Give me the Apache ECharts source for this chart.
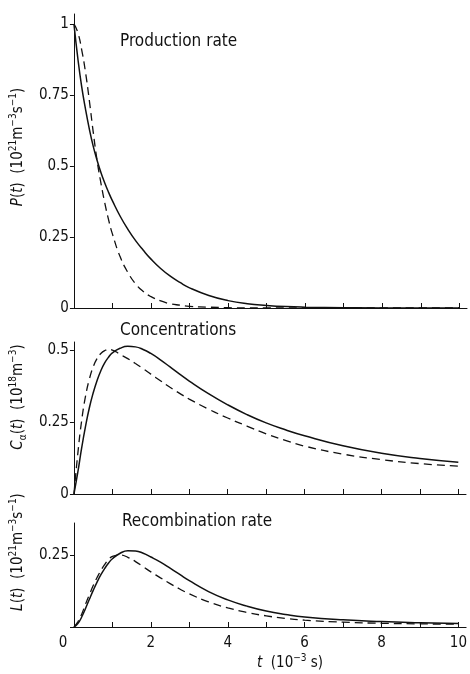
<!DOCTYPE html>
<html>
<head>
<meta charset="utf-8">
<script src="https://cdn.jsdelivr.net/npm/echarts@6/dist/echarts.min.js"></script>
<style>
  html, body { margin: 0; padding: 0; background: #fff; }
  #chart { width: 470px; height: 674px; }
</style>
</head>
<body>
<div id="chart"></div>
<script>
// time axis, 10^-3 s
const time = [0, 0.1, 0.2, 0.3, 0.4, 0.5, 0.6, 0.7, 0.8, 0.9, 1.0, 1.2, 1.4, 1.6, 1.8, 2.0,
  2.25, 2.5, 2.75, 3.0, 3.5, 4.0, 4.5, 5.0, 5.5, 6.0, 7.0, 8.0, 9.0, 10.0]

// production rate P(t)
const prodSolid = [1.0, 0.88, 0.78, 0.70, 0.63, 0.57, 0.52, 0.477, 0.44, 0.407, 0.377, 0.323, 0.277, 0.237, 0.203, 0.172,
  0.139, 0.112, 0.09, 0.071, 0.044, 0.026, 0.015, 0.009, 0.005, 0.003, 0.001, 0, 0, 0]
const prodDashed = [1.0, 0.97, 0.91, 0.83, 0.73, 0.62, 0.52, 0.44, 0.37, 0.31, 0.26, 0.18, 0.125, 0.085, 0.058, 0.04,
  0.025, 0.015, 0.01, 0.006, 0.003, 0.001, 0, 0, 0, 0, 0, 0, 0, 0]

// concentrations C_alpha(t)
const concSolid = [0, 0.075, 0.16, 0.235, 0.30, 0.352, 0.395, 0.43, 0.457, 0.477, 0.492, 0.508, 0.515, 0.513, 0.504, 0.49,
  0.468, 0.443, 0.418, 0.394, 0.35, 0.311, 0.277, 0.248, 0.224, 0.203, 0.168, 0.142, 0.124, 0.111]
const concDashed = [0, 0.14, 0.255, 0.34, 0.40, 0.443, 0.472, 0.49, 0.50, 0.504, 0.502, 0.487, 0.472, 0.455, 0.437, 0.418,
  0.395, 0.372, 0.351, 0.331, 0.296, 0.265, 0.237, 0.21, 0.187, 0.167, 0.139, 0.12, 0.106, 0.097]

// recombination rate L(t)
const recSolid = [0, 0.012, 0.035, 0.065, 0.097, 0.128, 0.157, 0.183, 0.205, 0.224, 0.239, 0.258, 0.267, 0.266, 0.258, 0.245,
  0.227, 0.206, 0.184, 0.162, 0.124, 0.095, 0.073, 0.056, 0.044, 0.035, 0.025, 0.019, 0.015, 0.012]
const recDashed = [0, 0.018, 0.045, 0.08, 0.113, 0.145, 0.173, 0.198, 0.219, 0.236, 0.247, 0.252, 0.244, 0.229, 0.211, 0.193,
  0.172, 0.152, 0.133, 0.116, 0.088, 0.067, 0.051, 0.039, 0.03, 0.024, 0.017, 0.013, 0.011, 0.01]

const xTicks = [0, 1, 2, 3, 4, 5, 6, 7, 8, 9, 10]
const xLabels = [0, 2, 4, 6, 8, 10]
const prodTicks = [0, 0.25, 0.5, 0.75, 1]
const concTicks = [0, 0.25, 0.5]
const recTicks = [0, 0.25]
const recLabels = [0.25]

const FONT = "'DejaVu Sans Condensed', 'Liberation Sans Narrow', 'DejaVu Sans', sans-serif"
const INK = '#111'

const pairs = (ys) => time.map((t, i) => [t, ys[i]])

// superscript / italic pieces for axis names
const nameRich = {
  i: { fontStyle: 'italic', fontSize: 15, lineHeight: 20, fontFamily: FONT, color: INK },
  s: { fontSize: 10, lineHeight: 10, verticalAlign: 'top', fontFamily: FONT, color: INK },
  b: { fontSize: 10, lineHeight: 10, verticalAlign: 'bottom', fontFamily: FONT, color: INK }
}

function xAxisOf(idx, withLabels) {
  return {
    type: 'value',
    gridIndex: idx,
    min: 0,
    max: 10.2,
    interval: 1,
    axisLine: { show: true, onZero: false, lineStyle: { color: INK, width: 1 } },
    axisTick: { show: true, inside: true, length: 5, customValues: xTicks, lineStyle: { color: INK } },
    axisLabel: withLabels ? {
      show: true,
      customValues: xLabels,
      margin: 9,
      fontSize: 15,
      fontFamily: FONT,
      color: INK,
      formatter: v => v === 0 ? '{o|0}' : String(v),
      rich: { o: { fontSize: 15, fontFamily: FONT, color: INK, padding: [0, 22, 0, 0] } }
    } : { show: false },
    splitLine: { show: false },
    name: withLabels ? '{i|t}  (10{s|−3} s)' : '',
    nameLocation: 'middle',
    nameGap: 26,
    nameTextStyle: {
      fontSize: 15, lineHeight: 20, fontFamily: FONT, color: INK,
      padding: [0, 0, 0, 40], rich: nameRich
    }
  }
}

function yAxisOf(idx, max, ticks, labels, name, gap, shift) {
  return {
    type: 'value',
    gridIndex: idx,
    min: 0,
    max: max,
    axisLine: { show: true, lineStyle: { color: INK, width: 1 } },
    axisTick: { show: true, length: 4, customValues: ticks, lineStyle: { color: INK } },
    axisLabel: {
      show: true,
      customValues: labels,
      margin: 5,
      fontSize: 15,
      fontFamily: FONT,
      color: INK,
      formatter: v => String(v)
    },
    splitLine: { show: false },
    name: name,
    nameLocation: 'middle',
    nameGap: gap,
    nameTextStyle: {
      fontSize: 15, lineHeight: 20, fontFamily: FONT, color: INK,
      padding: [0, 0, 0, shift], rich: nameRich
    }
  }
}

function lineOf(idx, ys, dashed) {
  return {
    type: 'line',
    xAxisIndex: idx,
    yAxisIndex: idx,
    data: pairs(ys),
    showSymbol: false,
    smooth: 0.5,
    silent: true,
    lineStyle: {
      color: INK,
      width: dashed ? 1.3 : 1.5,
      type: dashed ? [8, 5] : 'solid'
    }
  }
}

const chart = echarts.init(document.getElementById('chart'))

const titleStyle = { fontSize: 17, fontWeight: 'normal', fontFamily: FONT, color: INK }

chart.setOption({
  backgroundColor: '#fff',
  animation: false,
  title: [
    { text: 'Production rate', left: 120, top: 33, padding: 0, textStyle: titleStyle },
    { text: 'Concentrations', left: 120, top: 322, padding: 0, textStyle: titleStyle },
    { text: 'Recombination rate', left: 122, top: 513, padding: 0, textStyle: titleStyle }
  ],
  grid: [
    { left: 70, top: 14, width: 397, height: 294 },
    { left: 73, top: 342, width: 393, height: 152 },
    { left: 74, top: 523, width: 393, height: 104 }
  ],
  xAxis: [xAxisOf(0, false), xAxisOf(1, false), xAxisOf(2, true)],
  yAxis: [
    yAxisOf(0, 1.035, prodTicks, prodTicks, '{i|P}({i|t})  (10{s|21}m{s|−3}s{s|−1})', 38, 28),
    yAxisOf(1, 0.53, concTicks, concTicks, '{i|C}{b|α}({i|t})  (10{s|18}m{s|−3})', 37, 42),
    yAxisOf(2, 0.364, recTicks, recLabels, '{i|L}({i|t})  (10{s|21}m{s|−3}s{s|−1})', 39, 46)
  ],
  series: [
    lineOf(0, prodSolid, false),
    lineOf(0, prodDashed, true),
    lineOf(1, concSolid, false),
    lineOf(1, concDashed, true),
    lineOf(2, recSolid, false),
    lineOf(2, recDashed, true)
  ]
})
</script>
</body>
</html>
